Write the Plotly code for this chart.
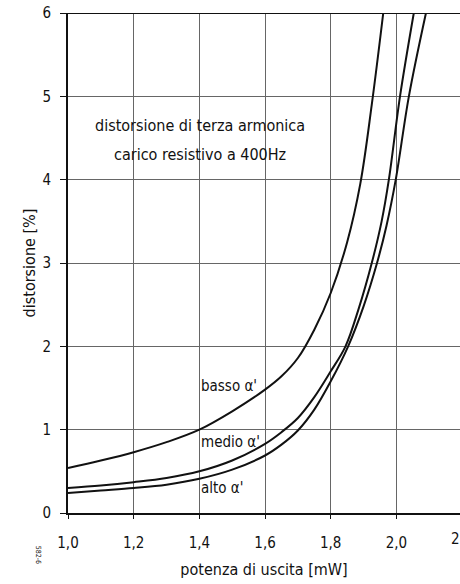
"""
Distorsione di terza armonica - riproduzione del grafico con Plotly
"""

import plotly.graph_objects as go

FONT = "Liberation Sans Narrow, DejaVu Sans Condensed, Arial Narrow, sans-serif"

# potenza di uscita [mW] / distorsione [%]
basso_x = [1.0, 1.1, 1.2, 1.3, 1.4, 1.5, 1.6, 1.65, 1.7, 1.75, 1.8, 1.85, 1.89, 1.925, 1.96]
basso_y = [0.54, 0.63, 0.73, 0.85, 1.0, 1.22, 1.48, 1.64, 1.86, 2.2, 2.64, 3.25, 3.95, 4.9, 6.0]

medio_x = [1.0, 1.1, 1.2, 1.3, 1.4, 1.5, 1.6, 1.65, 1.7, 1.75, 1.8, 1.845, 1.885, 1.925, 1.955,
           1.977, 2.011, 2.053]
medio_y = [0.30, 0.33, 0.37, 0.42, 0.50, 0.63, 0.83, 0.97, 1.14, 1.39, 1.70, 2.0, 2.45, 3.0, 3.5,
           4.0, 5.0, 6.0]

alto_x = [1.0, 1.1, 1.2, 1.3, 1.4, 1.5, 1.6, 1.65, 1.7, 1.75, 1.8, 1.853, 1.9, 1.941, 1.97,
          1.998, 2.038, 2.09]
alto_y = [0.24, 0.27, 0.30, 0.34, 0.41, 0.52, 0.69, 0.82, 0.99, 1.24, 1.58, 2.0, 2.48, 3.0, 3.45,
          4.0, 5.0, 6.0]

x_ticks = [1.0, 1.2, 1.4, 1.6, 1.8, 2.0]
y_ticks = [0, 1, 2, 3, 4, 5, 6]
# ultimo tick (2,2) tagliato dal bordo destro dell'originale
x_tick_cut = [2.2]

fig = go.Figure()
for xs, ys in [(basso_x, basso_y), (medio_x, medio_y), (alto_x, alto_y)]:
    fig.add_trace(go.Scatter(
        x=xs, y=ys,
        mode='lines',
        line=dict(color='#111', width=2, shape='spline', smoothing=1.0),
        showlegend=False,
        hoverinfo='skip',
    ))

# traccia vuota sull'asse secondario che porta solo l'etichetta 2,2
fig.add_trace(go.Scatter(x=x_tick_cut, y=[None], xaxis='x2', mode='lines',
                         showlegend=False, hoverinfo='skip'))

fig.update_layout(
    width=460, height=584,
    margin=dict(l=68, r=0, t=13, b=71, autoexpand=False),
    paper_bgcolor='white',
    plot_bgcolor='white',
    separators=',.',
    font=dict(family=FONT, size=15, color='#111'),
    xaxis=dict(
        range=[1.0, 1.0 + 392 / 328.4],
        tickvals=x_ticks, tickformat='.1f',
        showgrid=True, gridcolor='#666', gridwidth=1,
        showline=True, linecolor='#111', linewidth=2,
        ticks='outside', ticklen=4, tickcolor='#111',
        ticklabelstandoff=11, ticklabeloverflow='allow',
        zeroline=False, automargin=False,
        title=dict(text='potenza di uscita [mW]', standoff=13, font=dict(size=16)),
    ),
    xaxis2=dict(
        overlaying='x', anchor='y', side='bottom',
        range=[1.0, 2.21], tickvals=x_tick_cut, tickformat='.1f',
        showgrid=False, showline=False, zeroline=False, ticks='',
        ticklabelstandoff=15, ticklabelshift=5, ticklabeloverflow='allow',
        automargin=False, tickfont=dict(size=15),
    ),
    yaxis=dict(
        range=[0, 6],
        tickvals=y_ticks,
        showgrid=True, gridcolor='#666', gridwidth=1,
        showline=True, linecolor='#111', linewidth=2, mirror=False,
        ticks='outside', ticklen=6, tickcolor='#111',
        ticklabelstandoff=6, ticklabeloverflow='allow',
        zeroline=False, automargin=False,
        title=dict(text='distorsione [%]', standoff=3, font=dict(size=16)),
    ),
)
# linea superiore a 6%
fig.add_shape(type='line', xref='paper', yref='y', x0=0, x1=1, y0=6, y1=6,
              line=dict(color='#111', width=2))

notes = [
    (1.403, 4.65, 'distorsione di terza armonica'),
    (1.403, 4.30, 'carico resistivo a 400Hz'),
]
for x, y, t in notes:
    fig.add_annotation(x=x, y=y, text=t, showarrow=False, xanchor='center',
                       font=dict(size=16))

labels = [(1.53, "basso α'"), (0.85, "medio α'"), (0.30, "alto α'")]
for y, t in labels:
    fig.add_annotation(x=1.40, y=y, text=t, showarrow=False, xanchor='left',
                       font=dict(size=15))

# sigla verticale in basso a sinistra
fig.add_annotation(xref='paper', yref='paper', x=-0.09, y=-0.105, text='582-6',
                   showarrow=False, textangle=90, font=dict(size=7))

# niente margine della pagina: la figura parte dall'angolo in alto a sinistra
fig.write_html("out.html", config={'displayModeBar': False},
               post_script="document.body.style.margin='0';")
